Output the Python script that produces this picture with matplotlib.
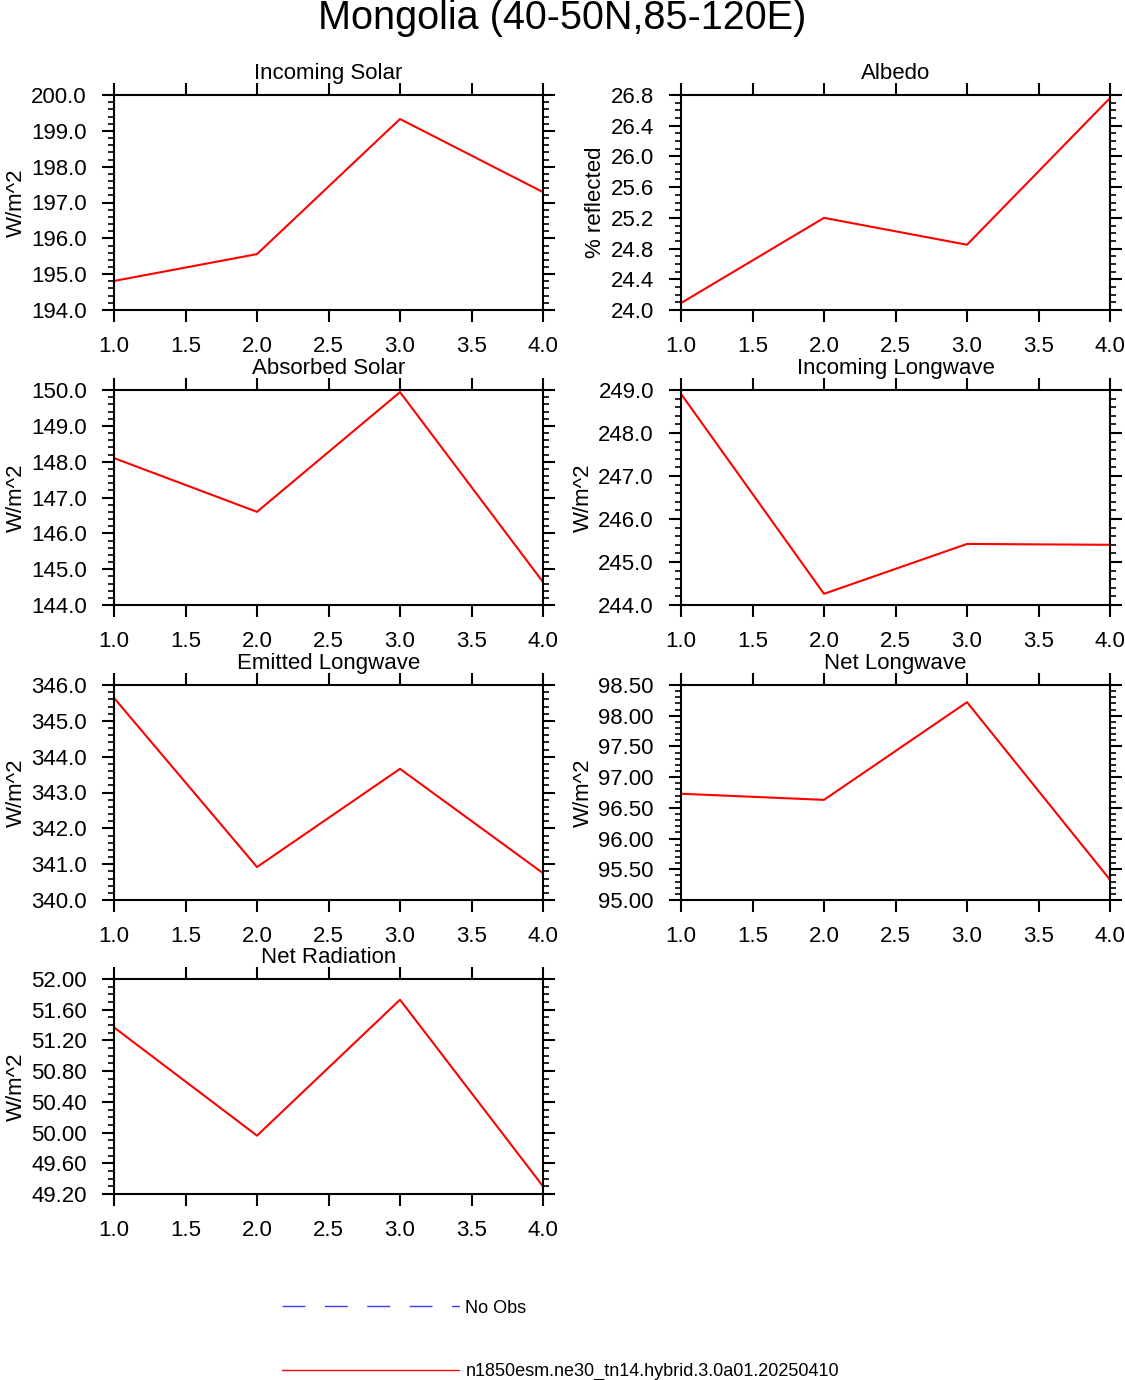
import matplotlib
matplotlib.use("Agg")
import matplotlib.pyplot as plt
from matplotlib.ticker import MultipleLocator, FormatStrFormatter

plt.rcParams['font.family'] = ['Liberation Sans', 'DejaVu Sans']

# x values shared by every panel
years = [1.0, 2.0, 3.0, 4.0]

# values
incoming_solar = [194.81, 195.56, 199.33, 197.29]
albedo = [24.09, 25.20, 24.85, 26.76]
absorbed_solar = [148.10, 146.60, 149.94, 144.64]
incoming_lw = [248.91, 244.26, 245.42, 245.40]
emitted_lw = [345.64, 340.92, 343.66, 340.75]
net_lw = [96.73, 96.63, 98.22, 95.33]
net_rad = [51.37, 49.96, 51.73, 49.30]

panel_titles = ["Incoming Solar", "Albedo", "Absorbed Solar", "Incoming Longwave",
                "Emitted Longwave", "Net Longwave", "Net Radiation"]
panel_units = ["W/m^2", "% reflected", "W/m^2", "W/m^2", "W/m^2", "W/m^2", "W/m^2"]
panel_data = [incoming_solar, albedo, absorbed_solar, incoming_lw, emitted_lw, net_lw, net_rad]
# (ymin, ymax, major step, minor step, format)
panel_axes = [(194.0, 200.0, 1.0, 0.2, "%.1f"),
              (24.0, 26.8, 0.4, 0.1, "%.1f"),
              (144.0, 150.0, 1.0, 0.2, "%.1f"),
              (244.0, 249.0, 1.0, 0.2, "%.1f"),
              (340.0, 346.0, 1.0, 0.2, "%.1f"),
              (95.0, 98.5, 0.5, 0.1, "%.2f"),
              (49.2, 52.0, 0.4, 0.1, "%.2f")]

legend_labels = ["No Obs", "n1850esm.ne30_tn14.hybrid.3.0a01.20250410"]

W, H = 1125, 1380
fig = plt.figure(figsize=(W / 100, H / 100), dpi=100)

col_left = [114, 681]
col_width = 429
row_top = [95, 390, 685, 979]
row_height = 215


def pixbox(x0, y0, w, h):
    return [x0 / W, 1 - (y0 + h) / H, w / W, h / H]


for i, (title, unit, vals, spec) in enumerate(zip(panel_titles, panel_units, panel_data, panel_axes)):
    r, c = divmod(i, 2)
    ax = fig.add_axes(pixbox(col_left[c], row_top[r], col_width, row_height))
    ymin, ymax, major, minor, fmt = spec

    ax.plot(years, vals, color='red', lw=1.5)

    ax.set_xlim(1.0, 4.0)
    ax.set_ylim(ymin, ymax)
    ax.xaxis.set_major_locator(MultipleLocator(0.5))
    ax.xaxis.set_major_formatter(FormatStrFormatter("%.1f"))
    ax.yaxis.set_major_locator(MultipleLocator(major))
    ax.yaxis.set_minor_locator(MultipleLocator(minor))
    ax.yaxis.set_major_formatter(FormatStrFormatter(fmt))

    ax.tick_params(axis='both', which='both', direction='out', top=True, right=True,
                   labelsize=16, width=1.5)
    ax.tick_params(axis='both', which='major', length=8.5)
    ax.tick_params(axis='y', which='minor', length=4.5, width=1.2)
    ax.tick_params(axis='x', which='major', pad=10)
    ax.tick_params(axis='y', which='major', pad=11)
    for sp in ax.spines.values():
        sp.set_linewidth(1.5)

    ax.set_ylabel(unit, fontsize=16, labelpad=3)
    ax.text(0.5, 1.05, title, transform=ax.transAxes, ha='center', va='bottom',
            fontsize=16)

fig.text(0.5, 1 - 18 / H, "Mongolia (40-50N,85-120E)", ha='center', va='center', fontsize=28.5)

# legend drawn on its own blank axes
lax = fig.add_axes(pixbox(282, 1290, 178, 95))
lax.set_xlim(0, 1)
lax.set_ylim(0, 1)
lax.axis('off')
lax.plot([0, 1], [0.83, 0.83], color='#3c3cff', lw=1.0, dashes=(16.5, 14))
lax.plot([0, 1], [0.16, 0.16], color='red', lw=1.0)
lax.text(1.03, 0.81, legend_labels[0], ha='left', va='center', fontsize=13, transform=lax.transAxes)
lax.text(1.03, 0.14, legend_labels[1], ha='left', va='center', fontsize=13, transform=lax.transAxes)

fig.savefig("out.png", dpi=100)
